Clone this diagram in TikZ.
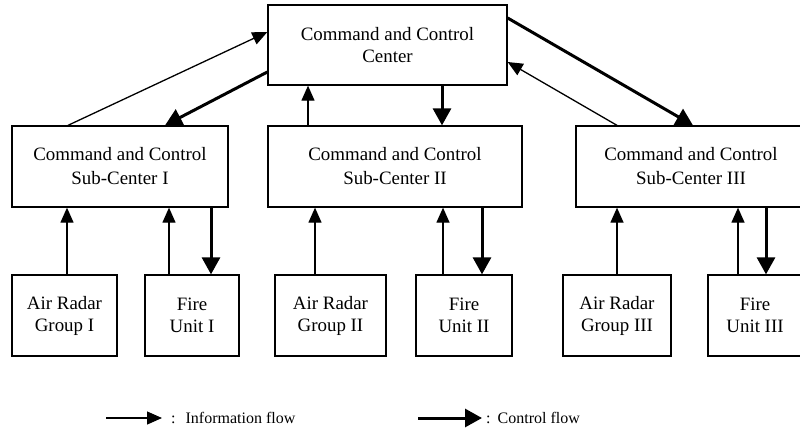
\documentclass[tikz,border=0pt]{standalone}
\usepackage{fontspec}
\setmainfont{Liberation Serif}
\usetikzlibrary{arrows.meta}

\tikzset{
  box/.style={draw, line width=1.3pt, rectangle, inner sep=0pt, align=center,
    font=\fontsize{18.9}{22}\selectfont},
  subbox/.style={box, font=\fontsize{18.9}{24}\selectfont},
  info/.style={line width=1.3pt, -{Triangle[length=15pt,width=13pt]}},
  ctrl/.style={line width=3pt, -{Triangle[length=17pt,width=18pt]}},
  legendtext/.style={anchor=west, inner sep=0pt, font=\fontsize{16}{18}\selectfont}
}

\begin{document}
\begin{tikzpicture}[x=1pt, y=-1pt]
\useasboundingbox (0,0) rectangle (800,431);
\clip (0,0) rectangle (800,431);

% command centre
\node[box, minimum width=239pt, minimum height=80pt] (top) at (387.5,45)
  {Command and Control\\Center};

% sub-centres
\node[subbox, minimum width=216pt, minimum height=81pt] (sub1) at (120,166.5)
  {Command and Control\\Sub-Center I};
\node[subbox, minimum width=254pt, minimum height=81pt] (sub2) at (395,166.5)
  {Command and Control\\Sub-Center II};
\node[subbox, minimum width=230pt, minimum height=81pt] (sub3) at (691,166.5)
  {Command and Control\\Sub-Center III};

% radar groups and fire units
\node[box, minimum width=105pt, minimum height=81pt] (arg1) at (64.5,315.5)
  {Air Radar\\Group I};
\node[box, minimum width=94pt, minimum height=81pt] (fu1) at (192,315.5)
  {Fire\\Unit I};
\node[box, minimum width=111pt, minimum height=81pt] (arg2) at (330.5,315.5)
  {Air Radar\\Group II};
\node[box, minimum width=96pt, minimum height=81pt] (fu2) at (464,315.5)
  {Fire\\Unit II};
\node[box, minimum width=108pt, minimum height=81pt] (arg3) at (617,315.5)
  {Air Radar\\Group III};
\node[box, minimum width=94pt, minimum height=81pt] (fu3) at (755,315.5)
  {Fire\\Unit III};

% centre <-> sub-centres
\draw[info] ([xshift=-52pt]sub1.north) -- ([yshift=13pt]top.west);
\draw[ctrl] ([yshift=-27pt]top.west) -- ([xshift=45pt]sub1.north);
\draw[info] ([xshift=-87pt]sub2.north) -- ([xshift=-87pt]sub2.north |- top.south);
\draw[ctrl] ([xshift=47pt]sub2.north |- top.south) -- ([xshift=47pt]sub2.north);
\draw[ctrl] ([yshift=27pt]top.east) -- ([xshift=2pt]sub3.north);
\draw[info] ([xshift=-74pt]sub3.north) -- ([yshift=-17pt]top.east);

% sub-centre I
\draw[info] ([xshift=2.5pt]arg1.north) -- ([xshift=2.5pt]arg1.north |- sub1.south);
\draw[info] ([xshift=-23pt]fu1.north) -- ([xshift=-23pt]fu1.north |- sub1.south);
\draw[ctrl] ([xshift=19pt]fu1.north |- sub1.south) -- ([xshift=19pt]fu1.north);

% sub-centre II
\draw[info] ([xshift=-15.5pt]arg2.north) -- ([xshift=-15.5pt]arg2.north |- sub2.south);
\draw[info] ([xshift=-21pt]fu2.north) -- ([xshift=-21pt]fu2.north |- sub2.south);
\draw[ctrl] ([xshift=18pt]fu2.north |- sub2.south) -- ([xshift=18pt]fu2.north);

% sub-centre III
\draw[info] (arg3.north) -- (arg3.north |- sub3.south);
\draw[info] ([xshift=-17pt]fu3.north) -- ([xshift=-17pt]fu3.north |- sub3.south);
\draw[ctrl] ([xshift=11pt]fu3.north |- sub3.south) -- ([xshift=11pt]fu3.north);

% legend
\coordinate (infoA) at (106,418);
\coordinate (infoB) at (162,418);
\coordinate (ctrlA) at (418,418);
\coordinate (ctrlB) at (482,418);
\draw[info] (infoA) -- (infoB);
\draw[ctrl] (ctrlA) -- (ctrlB);
\node[legendtext] (infolbl) at (171,418) {:\hspace{10pt}Information flow};
\node[legendtext] (ctrllbl) at (486,418) {:\hspace{7pt}Control flow};
\end{tikzpicture}
\end{document}
